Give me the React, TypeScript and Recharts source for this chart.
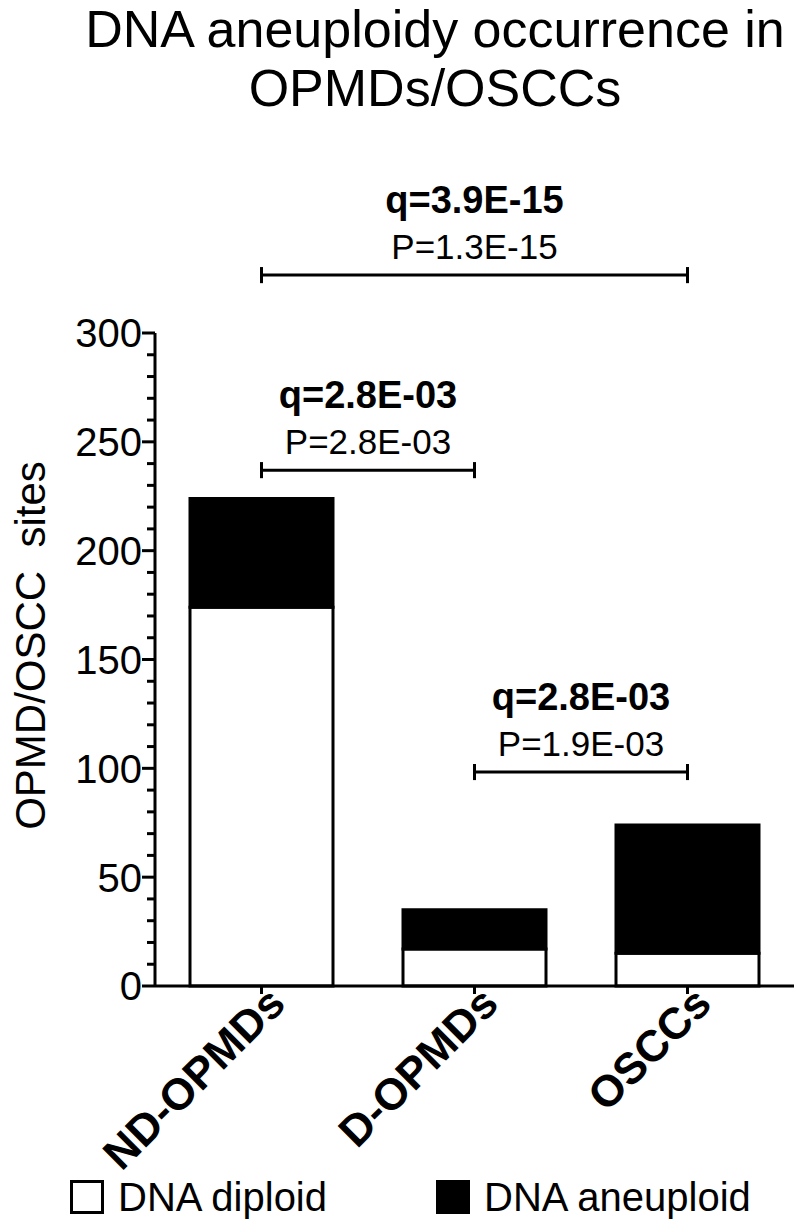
import { Bar, BarChart, Legend, ReferenceLine, XAxis, YAxis } from "recharts";

const categories = ["ND-OPMDs", "D-OPMDs", "OSCCs"];
const diploid = [174, 17, 15];
const aneuploid = [50, 18, 59];

const yTicks = [
  0, 10, 20, 30, 40, 50, 60, 70, 80, 90, 100, 110, 120, 130, 140, 150, 160, 170, 180, 190, 200,
  210, 220, 230, 240, 250, 260, 270, 280, 290, 300,
];

// significance brackets: from / to category, height in axis units
const bracketFrom = ["ND-OPMDs", "ND-OPMDs", "D-OPMDs"];
const bracketTo = ["OSCCs", "D-OPMDs", "OSCCs"];
const bracketLevel = [326.6, 237, 98.3];
const qLabels = ["q=3.9E-15", "q=2.8E-03", "q=2.8E-03"];
const pLabels = ["P=1.3E-15", "P=2.8E-03", "P=1.9E-03"];

const data = categories.map((name, i) => ({
  name,
  diploid: diploid[i],
  aneuploid: aneuploid[i],
}));

const FONT = '"Liberation Sans", Arial, Helvetica, sans-serif';

function YTick(props: any) {
  const { x, y, payload } = props;
  const major = payload.value % 50 === 0;
  return (
    <g>
      <line x1={x} x2={x - (major ? 13 : 8)} y1={y} y2={y} stroke="#000" strokeWidth={3} />
      {major && (
        <text x={x - 13} y={y} dy="0.36em" textAnchor="end" fontSize={40} fill="#000">
          {payload.value}
        </text>
      )}
    </g>
  );
}

function XTick(props: any) {
  const { x, y, payload } = props;
  const ax = x + 26;
  const ay = y + 10;
  return (
    <text
      x={ax}
      y={ay}
      transform={`rotate(-45, ${ax}, ${ay})`}
      textAnchor="end"
      fontSize={44}
      fontWeight="bold"
      fill="#000"
    >
      {payload.value}
    </text>
  );
}

function YLabel(props: any) {
  const vb = props.viewBox || { y: 333, height: 653 };
  const cy = vb.y + vb.height / 2 - 14;
  return (
    <text
      x={30}
      y={cy}
      transform={`rotate(-90, 30, ${cy})`}
      textAnchor="middle"
      dominantBaseline="central"
      fontSize={42}
      fill="#000"
      style={{ whiteSpace: "pre" }}
    >
      OPMD/OSCC  sites
    </text>
  );
}

function LegendContent() {
  const items = [
    { label: "DNA diploid", fill: "#fff", left: 70 },
    { label: "DNA aneuploid", fill: "#000", left: 436 },
  ];
  return (
    <div style={{ position: "relative", height: 50 }}>
      {items.map((it) => (
        <div
          key={it.label}
          style={{ position: "absolute", left: it.left, top: 0, display: "flex", alignItems: "center" }}
        >
          <span
            style={{
              display: "inline-block",
              width: 28,
              height: 28,
              background: it.fill,
              border: "3px solid #000",
              marginRight: 14,
            }}
          />
          <span style={{ fontSize: 40, lineHeight: "50px", color: "#000" }}>{it.label}</span>
        </div>
      ))}
    </div>
  );
}

export default function App() {
  return (
    <div
      style={{
        position: "absolute",
        left: 0,
        top: 0,
        width: 800,
        height: 1227,
        background: "#fff",
        fontFamily: FONT,
        overflow: "hidden",
      }}
    >
      <div
        style={{
          position: "absolute",
          left: 70,
          top: 0,
          width: 730,
          textAlign: "center",
          fontSize: 52,
          lineHeight: "59px",
          color: "#000",
        }}
      >
        DNA aneuploidy occurrence in
        <br />
        OPMDs/OSCCs
      </div>
      <BarChart
        width={800}
        height={1227}
        data={data}
        margin={{ top: 333, right: 6, bottom: 81, left: 0 }}
        barSize={143}
        style={{ position: "absolute", left: 0, top: 0 }}
      >
        <XAxis
          dataKey="name"
          height={160}
          axisLine={{ stroke: "#000", strokeWidth: 3 }}
          tickLine={{ stroke: "#000", strokeWidth: 3 }}
          tickSize={8}
          tickMargin={2}
          tick={<XTick />}
          interval={0}
        />
        <YAxis
          type="number"
          width={155}
          domain={[0, 300]}
          ticks={yTicks}
          interval={0}
          tickLine={false}
          tickSize={0}
          tickMargin={0}
          axisLine={{ stroke: "#000", strokeWidth: 3 }}
          tick={<YTick />}
          label={{ content: <YLabel /> }}
        />
        <Bar dataKey="diploid" stackId="s" fill="#fff" stroke="#000" strokeWidth={3} isAnimationActive={false} />
        <Bar dataKey="aneuploid" stackId="s" fill="#000" stroke="#000" strokeWidth={3} isAnimationActive={false} />
        {bracketLevel.map((lvl, i) => (
          <ReferenceLine
            key={`b${i}`}
            segment={[
              { x: bracketFrom[i], y: lvl },
              { x: bracketTo[i], y: lvl },
            ]}
            ifOverflow="visible"
            stroke="#000"
            strokeWidth={3}
            label={{ value: pLabels[i], position: "top", offset: 16, fontSize: 35, fill: "#000" }}
          />
        ))}
        {bracketLevel.map((lvl, i) => (
          <ReferenceLine
            key={`q${i}`}
            segment={[
              { x: bracketFrom[i], y: lvl },
              { x: bracketTo[i], y: lvl },
            ]}
            ifOverflow="visible"
            stroke="none"
            label={{
              value: qLabels[i],
              position: "top",
              offset: 62,
              fontSize: 38,
              fontWeight: "bold",
              fill: "#000",
            }}
          />
        ))}
        {bracketLevel.map((lvl, i) => (
          <ReferenceLine
            key={`l${i}`}
            segment={[
              { x: bracketFrom[i], y: lvl - 3.7 },
              { x: bracketFrom[i], y: lvl + 3.7 },
            ]}
            ifOverflow="visible"
            stroke="#000"
            strokeWidth={3}
          />
        ))}
        {bracketLevel.map((lvl, i) => (
          <ReferenceLine
            key={`r${i}`}
            segment={[
              { x: bracketTo[i], y: lvl - 3.7 },
              { x: bracketTo[i], y: lvl + 3.7 },
            ]}
            ifOverflow="visible"
            stroke="#000"
            strokeWidth={3}
          />
        ))}
        <Legend
          layout="horizontal"
          verticalAlign="middle"
          align="center"
          content={<LegendContent />}
          wrapperStyle={{ top: 1172, left: 0, bottom: "auto", width: 800 }}
        />
      </BarChart>
    </div>
  );
}
